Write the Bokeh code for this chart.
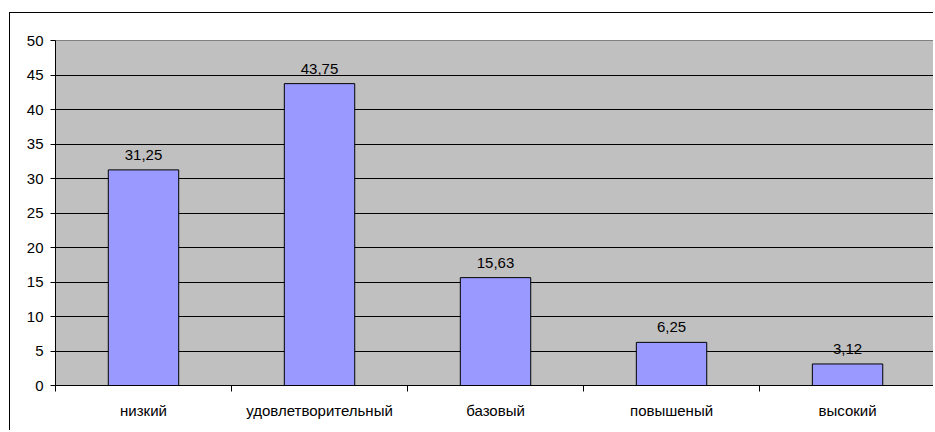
from bokeh.plotting import figure
from bokeh.models import Range1d, FixedTicker, ColumnDataSource
from bokeh.embed import file_html
from bokeh.resources import INLINE
from bokeh.core.properties import value

categories = ["низкий", "удовлетворительный", "базовый", "повышеный", "высокий"]
percents = [31.25, 43.75, 15.63, 6.25, 3.12]
value_labels = ["31,25", "43,75", "15,63", "6,25", "3,12"]
y_ticks = [0, 5, 10, 15, 20, 25, 30, 35, 40, 45, 50]

FONT = "Liberation Sans"
FS = "15px"

xs = [i + 0.5 for i in range(len(categories))]
src = ColumnDataSource(dict(x=xs, top=percents, lab=value_labels))

p = figure(width=924, height=418, output_backend="svg", toolbar_location=None,
           x_range=Range1d(0, 4.994), y_range=Range1d(0, 50),
           min_border_left=45, min_border_right=0, min_border_top=27, min_border_bottom=46)
p.margin = (12, 0, 0, 9)
p.styles = {"border-left": "1px solid black", "border-top": "1px solid black"}

p.background_fill_color = "#C0C0C0"
p.border_fill_color = "white"
p.outline_line_color = "#808080"
p.outline_line_width = 1

p.vbar(x="x", top="top", bottom=0, width=0.4, source=src,
       fill_color="#9999FF", line_color="black", line_width=1)

p.text(x="x", y="top", text="lab", source=src, text_align="center",
       text_baseline="bottom", y_offset=-10, text_font=value(FONT),
       text_font_size=FS, text_color="black")

# axes
p.yaxis.ticker = FixedTicker(ticks=y_ticks)
p.yaxis.axis_line_color = "black"
p.yaxis.major_tick_line_color = "black"
p.yaxis.major_tick_out = 5
p.yaxis.major_tick_in = 0
p.yaxis.minor_tick_line_color = None
p.yaxis.major_label_standoff = 7
p.yaxis.major_label_text_font = FONT
p.yaxis.major_label_text_font_size = FS
p.yaxis.major_label_text_color = "black"

p.xaxis.ticker = FixedTicker(ticks=xs, minor_ticks=list(range(len(categories) + 1)))
p.xaxis.major_label_overrides = {x: c for x, c in zip(xs, categories)}
p.xaxis.axis_line_color = "black"
p.xaxis.major_tick_line_color = None
p.xaxis.major_tick_out = 0
p.xaxis.major_tick_in = 0
p.xaxis.minor_tick_line_color = "black"
p.xaxis.minor_tick_out = 6
p.xaxis.minor_tick_in = 0
p.xaxis.major_label_standoff = 10
p.xaxis.major_label_text_font = FONT
p.xaxis.major_label_text_font_size = FS
p.xaxis.major_label_text_color = "black"

p.xgrid.grid_line_color = None
p.ygrid.ticker = FixedTicker(ticks=y_ticks[1:-1])
p.ygrid.grid_line_color = "black"
p.ygrid.grid_line_width = 1

open("out.html", "w").write(file_html(p, INLINE))
